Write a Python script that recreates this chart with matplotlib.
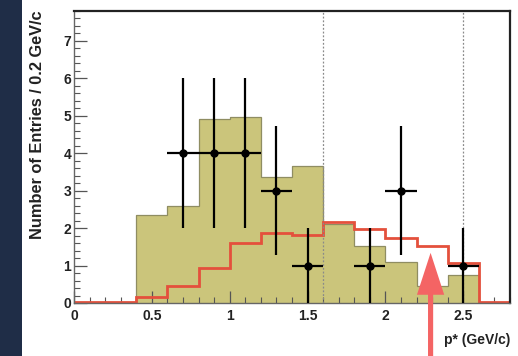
import matplotlib
matplotlib.use("Agg")
import matplotlib.pyplot as plt
from matplotlib.patches import FancyArrow, Rectangle
from matplotlib.ticker import MultipleLocator

# Bin lower edges (0.2 GeV/c wide) and the final upper edge
bin_lo = [0.0, 0.2, 0.4, 0.6, 0.8, 1.0, 1.2, 1.4, 1.6, 1.8, 2.0, 2.2, 2.4, 2.6]
bin_hi_last = 2.8

# Filled histogram (expected background)
fill_counts = [0, 0, 2.35, 2.58, 4.91, 4.96, 3.37, 3.66, 2.12, 1.52, 1.10, 0.45, 0.75, 0]

# Red step histogram (signal shape)
line_counts = [0.03, 0.03, 0.15, 0.45, 0.93, 1.60, 1.87, 1.82, 2.17, 1.97, 1.73, 1.52, 1.07, 0.03]

# Observed entries with statistical errors
data_x = [0.7, 0.9, 1.1, 1.3, 1.5, 1.9, 2.1, 2.5]
data_n = [4, 4, 4, 3, 1, 1, 3, 1]
data_err = [2.0, 2.0, 2.0, 1.73, 1.0, 1.0, 1.73, 1.0]
data_xerr = 0.1

# Signal-region boundaries and cut position
region_lines = [1.6, 2.5]
cut_x = 2.29
cut_tip = 1.34

x_ticks = [0, 0.5, 1, 1.5, 2, 2.5]
x_tick_labels = ["0", "0.5", "1", "1.5", "2", "2.5"]
y_ticks = [0, 1, 2, 3, 4, 5, 6, 7]

FONT = "Liberation Sans"
W, H = 518, 356
fig = plt.figure(figsize=(W / 100, H / 100), dpi=100)
fig.patch.set_facecolor("white")

# dark slide border on the left
fig.patches.append(Rectangle((0, 0), 22 / W, 1, transform=fig.transFigure,
                             facecolor="#1f2d47", edgecolor="none", zorder=0))

ax = fig.add_axes([74 / W, 1 - 303 / H, (510 - 74) / W, (303 - 11) / H])
ax.set_xlim(0, 2.8)
ax.set_ylim(0, 7.8)

edges = bin_lo + [bin_hi_last]
ax.stairs(fill_counts, edges, fill=True, facecolor="#cbc57b", edgecolor="none", zorder=1)
ax.stairs(fill_counts, edges, fill=False, edgecolor="#8f8d62", linewidth=0.9, zorder=1.5)
ax.stairs(line_counts, edges, fill=False, edgecolor="#e4503c", linewidth=2.0, zorder=2)

for xv in region_lines:
    ax.axvline(xv, color="#8a8a8a", linestyle=(0, (1.5, 1.5)), linewidth=0.9, zorder=2.5)

ax.errorbar(data_x, data_n, yerr=data_err, xerr=data_xerr, fmt="o", color="black",
            markersize=5, elinewidth=1.6, capsize=0, zorder=4)

arrow = FancyArrow(cut_x, -1.5, 0, cut_tip + 1.5, width=0.033, head_width=0.175,
                   head_length=1.12, length_includes_head=True,
                   facecolor="#f46464", edgecolor="none", clip_on=False, zorder=5)
ax.add_patch(arrow)

ax.set_xticks(x_ticks)
ax.set_xticklabels(x_tick_labels)
ax.set_yticks(y_ticks)
ax.xaxis.set_minor_locator(MultipleLocator(0.1))
ax.yaxis.set_minor_locator(MultipleLocator(0.2))
ax.tick_params(which="both", direction="in", colors="#555555", labelcolor="#222222")
ax.tick_params(which="major", length=9, width=0.9)
ax.tick_params(which="minor", length=4.5, width=0.8)
ax.tick_params(axis="y", pad=2)
ax.tick_params(axis="x", pad=4)
for lab in ax.get_xticklabels() + ax.get_yticklabels():
    lab.set_fontfamily(FONT)
    lab.set_fontsize(10)
    lab.set_fontweight("bold")

for side in ["top", "right"]:
    ax.spines[side].set_color("#222222")
    ax.spines[side].set_linewidth(1.6)
for side in ["left", "bottom"]:
    ax.spines[side].set_color("#666666")
    ax.spines[side].set_linewidth(1.0)

fig.text(38 / W, 1 - 10 / H, "Number of Entries / 0.2 GeV/c", rotation=90,
         ha="center", va="top", fontsize=11.8, fontweight="bold",
         fontfamily=FONT, color="#222222")
fig.text(510 / W, 1 - 340 / H, "p* (GeV/c)", ha="right", va="center",
         fontsize=10, fontweight="bold", fontfamily=FONT, color="#222222")

fig.savefig("out.png", dpi=100)
